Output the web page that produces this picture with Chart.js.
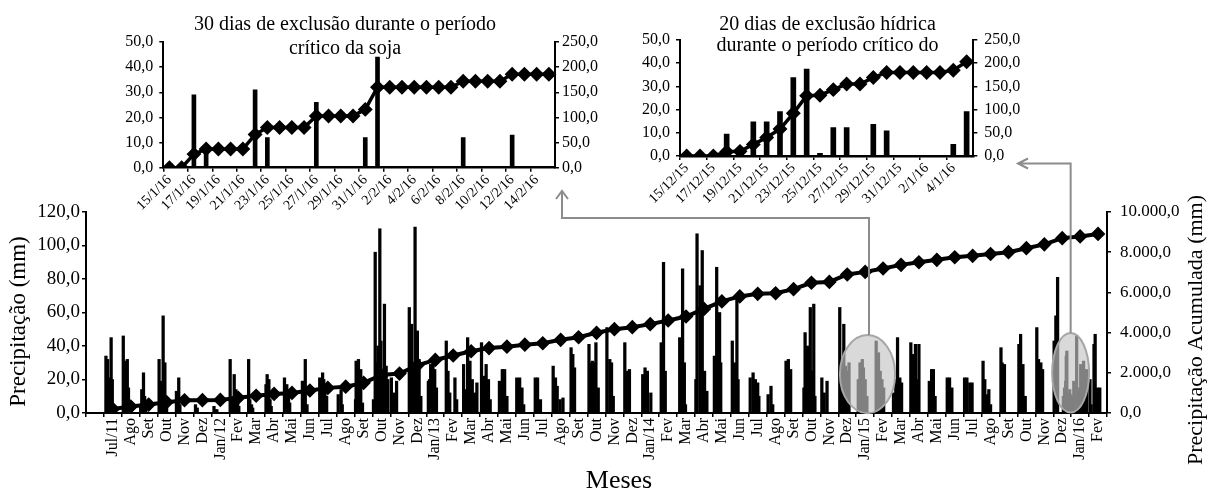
<!DOCTYPE html>
<html lang="pt">
<head>
<meta charset="utf-8">
<script src="https://cdn.jsdelivr.net/npm/chart.js@4.4.1/dist/chart.umd.min.js"></script>
<style>
  html, body { margin: 0; padding: 0; background: #fff; }
  #quadro { position: relative; width: 1208px; height: 491px; overflow: hidden; }
  canvas { position: absolute; top: 0; }
  #principal { left: 0; }
  #detalhe30 { left: 100px; }
  #detalhe20 { left: 620px; }
</style>
</head>
<body>
<div id="quadro">
  <canvas id="principal" width="1208" height="491"></canvas>
  <canvas id="detalhe30" width="510" height="225"></canvas>
  <canvas id="detalhe20" width="420" height="220"></canvas>
</div>
<script>
const FONTE = "'Liberation Serif', 'Times New Roman', serif";

// ---- série principal: jul/2011 a fev/2016 ----
const meses = ['', 'Jul/11', 'Ago', 'Set', 'Out', 'Nov', 'Dez',
  'Jan/12', 'Fev', 'Mar', 'Abr', 'Mai', 'Jun', 'Jul', 'Ago', 'Set', 'Out', 'Nov', 'Dez',
  'Jan/13', 'Fev', 'Mar', 'Abr', 'Mai', 'Jun', 'Jul', 'Ago', 'Set', 'Out', 'Nov', 'Dez',
  'Jan/14', 'Fev', 'Mar', 'Abr', 'Mai', 'Jun', 'Jul', 'Ago', 'Set', 'Out', 'Nov', 'Dez',
  'Jan/15', 'Fev', 'Mar', 'Abr', 'Mai', 'Jun', 'Jul', 'Ago', 'Set', 'Out', 'Nov', 'Dez',
  'Jan/16', 'Fev'];

// precipitação acumulada no fim de cada mês (mm)
const acumuladoMensal = [
  200, 320, 420, 540, 635, 640,
  650, 760, 860, 950, 1000, 1120, 1250, 1310, 1500, 1890, 1960, 2370,
  2640, 2860, 3070, 3230, 3300, 3400, 3470, 3640, 3770, 3990, 4170, 4270,
  4420, 4600, 4800, 5180, 5550, 5800, 5930, 5960, 6160, 6480, 6520, 6890,
  7020, 7190, 7370, 7500, 7620, 7750, 7820, 7910, 8000, 8200, 8390, 8700,
  8785, 8910
];

// chuvas diárias de cada mês: [dia, mm]
const chuva2011 = [
  [[4, 34], [5, 8], [7, 32], [10, 21], [13, 45], [15, 20], [17, 5], [20, 3]],
  [[3, 46], [5, 12], [7, 31], [10, 32], [12, 15], [14, 6], [16, 3]],
  [[2, 5], [4, 14], [7, 24], [9, 10], [11, 5]],
  [[3, 32], [5, 10], [7, 19], [10, 58], [13, 30], [16, 8]],
  [[2, 13], [4, 8], [6, 21], [8, 5]],
  [[4, 5], [7, 3]]
];
const chuva2012 = [
  [[5, 4], [8, 2], [10, 2]],
  [[2, 32], [5, 8], [9, 23], [12, 14], [15, 6], [17, 4]],
  [[3, 32], [5, 8], [8, 5], [10, 3]],
  [[2, 17], [4, 23], [7, 20], [9, 8], [11, 4]],
  [[3, 21], [7, 17], [10, 13], [12, 6]],
  [[3, 19], [5, 19], [8, 32], [11, 5]],
  [[2, 21], [5, 12], [7, 24], [9, 20], [11, 17], [14, 10]],
  [[3, 11], [8, 14], [10, 5]],
  [[2, 8], [3, 31], [7, 32], [11, 26], [14, 6]],
  [[2, 8], [5, 96], [8, 30], [10, 40], [13, 110], [15, 43], [18, 20], [21, 65], [24, 28], [27, 20]],
  [[2, 21], [4, 10], [6, 12], [11, 19]],
  [[2, 63], [4, 40], [6, 53], [9, 30], [12, 111], [14, 30], [16, 49], [19, 32], [22, 10]]
];
const chuva2013 = [
  [[4, 19], [6, 20], [8, 29], [12, 31], [15, 26], [18, 15]],
  [[4, 43], [7, 25], [10, 12], [19, 21], [22, 8]],
  [[3, 29], [6, 14], [10, 45], [12, 25], [14, 31], [18, 20], [22, 12], [26, 18]],
  [[3, 42], [8, 22], [11, 29], [15, 20], [18, 8]],
  [[3, 19], [8, 26], [12, 26], [16, 10]],
  [[2, 21], [7, 21], [11, 15], [14, 5]],
  [[3, 21], [7, 21], [12, 8]],
  [[3, 28], [7, 21], [10, 16], [15, 8], [20, 9]],
  [[3, 39], [6, 35], [9, 27]],
  [[3, 41], [6, 30], [9, 31], [12, 30], [15, 42], [19, 15]],
  [[3, 51], [8, 32], [11, 30], [14, 10]],
  [[3, 42], [7, 25], [11, 26]]
];
const chuva2014 = [
  [[3, 23], [7, 27], [11, 25], [17, 12]],
  [[4, 42], [8, 90], [11, 25]],
  [[5, 45], [10, 86], [13, 30], [15, 5]],
  [[2, 20], [4, 107], [9, 76], [13, 97], [17, 25], [21, 13]],
  [[3, 34], [7, 87], [10, 45], [12, 60], [14, 30]],
  [[3, 43], [7, 30], [11, 68], [13, 20]],
  [[3, 21], [8, 24], [12, 20], [16, 18], [18, 10]],
  [[3, 11], [8, 16], [11, 5]],
  [[3, 31], [7, 32], [11, 26]],
  [[3, 15], [5, 48], [9, 40], [14, 63], [16, 25], [20, 65], [22, 10]],
  [[3, 21], [7, 12], [12, 19]],
  [[3, 63], [6, 30], [10, 53], [13, 28], [16, 25], [19, 30]]
];
const chuva2015 = [
  [[4, 20], [7, 30], [9, 25], [11, 32], [13, 27], [16, 20], [19, 10]],
  [[4, 43], [8, 36], [11, 25], [14, 20], [17, 15]],
  [[3, 12], [7, 20], [10, 45], [14, 21], [17, 18]],
  [[2, 42], [6, 35], [10, 41], [13, 20], [16, 41]],
  [[3, 19], [7, 26], [10, 26], [13, 10]],
  [[3, 21], [7, 21], [11, 15]],
  [[2, 21], [6, 21], [11, 18], [15, 18]],
  [[3, 31], [6, 20], [9, 11], [13, 14], [16, 5]],
  [[3, 39], [5, 30], [9, 29]],
  [[3, 41], [6, 47], [10, 29], [14, 10]],
  [[3, 51], [6, 32], [10, 30], [13, 26]],
  [[2, 43], [5, 58], [8, 81], [18, 10], [20, 15], [22, 19], [23, 34], [24, 37], [26, 12], [27, 12], [29, 14], [30, 11]]
];
const chuva2016 = [
  [[2, 10], [5, 19], [10, 46], [14, 15], [17, 29], [22, 31], [27, 26]],
  [[2, 20], [4, 5], [9, 41], [11, 47], [15, 15], [19, 15]]
];

// ---- detalhe: 15/1/16 a 15/2/16 ----
const datas30 = ['15/1/16', '16/1/16', '17/1/16', '18/1/16', '19/1/16', '20/1/16', '21/1/16', '22/1/16',
  '23/1/16', '24/1/16', '25/1/16', '26/1/16', '27/1/16', '28/1/16', '29/1/16', '30/1/16', '31/1/16',
  '1/2/16', '2/2/16', '3/2/16', '4/2/16', '5/2/16', '6/2/16', '7/2/16', '8/2/16', '9/2/16', '10/2/16',
  '11/2/16', '12/2/16', '13/2/16', '14/2/16', '15/2/16'];
const chuva30 = [0, 0, 29, 7, 0, 0, 0, 31, 12, 0, 0, 0, 26, 0, 0, 0, 12, 44, 0, 0, 0, 0, 0, 0, 12, 0, 0, 0, 13, 0, 0, 0];
const acumulado30 = [0, 0, 27, 37, 37, 37, 37, 66, 80, 80, 80, 80, 103, 103, 103, 103, 116, 160, 160, 160,
  160, 160, 160, 160, 172, 172, 172, 172, 186, 186, 186, 186];

// ---- detalhe: 15/12/15 a 5/1/16 ----
const datas20 = ['15/12/15', '16/12/15', '17/12/15', '18/12/15', '19/12/15', '20/12/15', '21/12/15',
  '22/12/15', '23/12/15', '24/12/15', '25/12/15', '26/12/15', '27/12/15', '28/12/15', '29/12/15',
  '30/12/15', '31/12/15', '1/1/16', '2/1/16', '3/1/16', '4/1/16', '5/1/16'];
const chuva20 = [0, 0, 0, 9.5, 0.5, 14.7, 14.7, 19.1, 33.8, 37.5, 1.1, 12.2, 12.2, 0, 13.6, 10.9, 0, 0, 0, 0, 5, 19.1];
const acumulado20 = [0, 0, 0, 9, 10, 25, 40, 58, 92, 130, 131, 143, 155, 155, 169, 180, 180, 180, 180, 180, 185, 203];

// ---------------------------------------------------------------

function formatar(v) {
  const [inteiro, dec] = Number(v).toFixed(1).split('.');
  return inteiro.replace(/\B(?=(\d{3})+(?!\d))/g, '.') + ',' + dec;
}

const chuvaPorMes = [...chuva2011, ...chuva2012, ...chuva2013, ...chuva2014, ...chuva2015, ...chuva2016];
const barrasDiarias = [];
chuvaPorMes.forEach((eventos, m) => {
  eventos.forEach(([dia, mm]) => barrasDiarias.push({ x: m + 1 + (dia - 0.5) / 31, y: mm }));
});
const pontosAcumulados = acumuladoMensal.map((v, m) => ({ x: m + 1.5, y: v }));

function eixoY(opts) {
  return {
    position: opts.position,
    min: 0,
    max: opts.max,
    ticks: {
      stepSize: opts.step,
      color: '#000',
      padding: opts.padding,
      font: { family: FONTE, size: opts.fonte },
      callback: v => formatar(v)
    },
    grid: { drawOnChartArea: false, color: '#000', lineWidth: 1.5, tickLength: 4 },
    border: { color: '#000', width: 2 },
    afterFit: s => { s.width = opts.largura; }
  };
}

function textos(lista) {
  return {
    id: 'textos',
    afterDraw(chart) {
      const ctx = chart.ctx;
      lista.forEach(t => {
        ctx.save();
        ctx.fillStyle = '#000';
        ctx.font = `${t.tamanho}px ${FONTE}`;
        ctx.textAlign = 'center';
        ctx.textBaseline = t.rot ? 'middle' : 'alphabetic';
        ctx.translate(t.x, t.y);
        if (t.rot) ctx.rotate(-Math.PI / 2);
        ctx.fillText(t.texto, 0, 0);
        ctx.restore();
      });
    }
  };
}

// elipses que marcam os períodos ampliados e as setas até os detalhes
const destaques = [
  { centro: 43.63, meiaLargura: 1.54, centroMm: 23.2, meiaAltura: 23.3 },
  { centro: 54.97, meiaLargura: 1.03, centroMm: 24.0, meiaAltura: 23.7 }
];

const marcacoes = {
  id: 'marcacoes',
  afterDatasetsDraw(chart) {
    const ctx = chart.ctx;
    const xs = chart.scales.xd, ys = chart.scales.y;
    const elipses = destaques.map(d => {
      const cx = xs.getPixelForValue(d.centro);
      const cy = ys.getPixelForValue(d.centroMm);
      const rx = xs.getPixelForValue(d.centro + d.meiaLargura) - cx;
      const ry = cy - ys.getPixelForValue(d.centroMm + d.meiaAltura);
      return { cx, cy, rx, ry };
    });
    ctx.save();
    elipses.forEach(e => {
      ctx.beginPath();
      ctx.ellipse(e.cx, e.cy, e.rx, e.ry, 0, 0, Math.PI * 2);
      ctx.fillStyle = 'rgba(197,197,197,0.65)';
      ctx.fill();
      ctx.lineWidth = 2;
      ctx.strokeStyle = '#a6a6a6';
      ctx.stroke();
    });

    ctx.strokeStyle = '#8c8c8c';
    ctx.lineWidth = 2;
    const [e1, e2] = elipses;
    // conexão com o detalhe de 30 dias (seta para cima)
    ctx.beginPath();
    ctx.moveTo(e1.cx + 1.5, e1.cy - e1.ry);
    ctx.lineTo(e1.cx + 1.5, 218);
    ctx.lineTo(562, 218);
    ctx.lineTo(562, 191);
    ctx.moveTo(556, 199);
    ctx.lineTo(562, 191);
    ctx.lineTo(568, 199);
    ctx.stroke();
    // conexão com o detalhe de 20 dias (seta para a esquerda)
    ctx.beginPath();
    ctx.moveTo(e2.cx, e2.cy - e2.ry);
    ctx.lineTo(e2.cx, 163.5);
    ctx.lineTo(1018, 163.5);
    ctx.moveTo(1028, 158.5);
    ctx.lineTo(1018, 163.5);
    ctx.lineTo(1028, 168.5);
    ctx.stroke();
    ctx.restore();
  }
};

new Chart(document.getElementById('principal'), {
  type: 'bar',
  data: {
    labels: meses,
    datasets: [
      {
        type: 'line',
        label: 'Precipitação acumulada',
        data: pontosAcumulados,
        xAxisID: 'xd',
        yAxisID: 'y2',
        borderColor: '#000',
        backgroundColor: '#000',
        borderWidth: 4,
        pointStyle: 'rectRot',
        pointRadius: 4.5,
        tension: 0
      },
      {
        type: 'bar',
        label: 'Precipitação',
        data: barrasDiarias,
        xAxisID: 'xd',
        yAxisID: 'y',
        backgroundColor: '#000',
        barThickness: 2.6,
        grouped: false
      }
    ]
  },
  options: {
    responsive: false,
    animation: false,
    events: [],
    layout: { padding: { top: 212, left: 0, right: 0, bottom: 0 } },
    plugins: { legend: { display: false }, tooltip: { enabled: false } },
    scales: {
      x: {
        type: 'category',
        offset: true,
        grid: { offset: true, drawOnChartArea: false, color: '#000', lineWidth: 1.5, tickLength: 4 },
        border: { color: '#000', width: 2 },
        ticks: {
          autoSkip: false,
          minRotation: 90,
          maxRotation: 90,
          padding: 1,
          color: '#000',
          font: { family: FONTE, size: 16 }
        },
        afterFit: s => { s.height = 78; }
      },
      xd: { type: 'linear', display: false, min: 0, max: 57, offset: false },
      y: eixoY({ position: 'left', max: 120, step: 20, fonte: 19, padding: 2, largura: 86 }),
      y2: eixoY({ position: 'right', max: 10000, step: 2000, fonte: 17, padding: 9, largura: 101 })
    }
  },
  plugins: [marcacoes, textos([
    { texto: 'Precipitação (mm)', x: 18.5, y: 321.5, tamanho: 23, rot: true },
    { texto: 'Precipitação Acumulada (mm)', x: 1196, y: 330, tamanho: 22, rot: true },
    { texto: 'Meses', x: 619, y: 488, tamanho: 26 }
  ])]
});

function criarDetalhe(id, cfg) {
  return new Chart(document.getElementById(id), {
    type: 'bar',
    data: {
      labels: cfg.datas,
      datasets: [
        {
          type: 'line',
          label: 'Acumulada',
          data: cfg.acumulado,
          yAxisID: 'y2',
          borderColor: '#000',
          backgroundColor: '#000',
          borderWidth: 3.5,
          pointStyle: 'rectRot',
          pointRadius: 5,
          tension: 0
        },
        {
          type: 'bar',
          label: 'Diária',
          data: cfg.chuva,
          yAxisID: 'y',
          backgroundColor: '#000',
          barThickness: cfg.barra
        }
      ]
    },
    options: {
      responsive: false,
      animation: false,
      events: [],
      layout: { padding: { top: cfg.topo, left: 0, right: 0, bottom: 0 } },
      plugins: { legend: { display: false }, tooltip: { enabled: false } },
      scales: {
        x: {
          type: 'category',
          offset: true,
          grid: {
            offset: true,
            drawOnChartArea: false,
            lineWidth: 1.5,
            tickLength: 4,
            tickColor: c => (c.index % 2 === 0 ? '#000' : 'rgba(0,0,0,0)')
          },
          border: { color: '#000', width: 2.5 },
          ticks: {
            autoSkip: false,
            minRotation: 45,
            maxRotation: 45,
            padding: 0,
            color: '#000',
            font: { family: FONTE, size: 14 },
            callback: (v, i) => (i % 2 === 0 ? cfg.datas[i] : '')
          },
          afterFit: s => { s.height = cfg.alturaX; }
        },
        y: eixoY({ position: 'left', max: 50, step: 10, fonte: 16, padding: 6, largura: cfg.esquerda }),
        y2: eixoY({ position: 'right', max: 250, step: 50, fonte: 16, padding: cfg.padDireita, largura: cfg.direita })
      }
    },
    plugins: [textos(cfg.titulo)]
  });
}

criarDetalhe('detalhe30', {
  datas: datas30, chuva: chuva30, acumulado: acumulado30,
  barra: 4, topo: 42, alturaX: 57.3, esquerda: 63.3, direita: 55, padDireita: 3,
  titulo: [
    { texto: '30 dias de exclusão durante o período', x: 245, y: 29.5, tamanho: 20 },
    { texto: 'crítico da soja', x: 245, y: 53.5, tamanho: 20 }
  ]
});

criarDetalhe('detalhe20', {
  datas: datas20, chuva: chuva20, acumulado: acumulado20,
  barra: 5, topo: 40, alturaX: 64, esquerda: 60, direita: 66.7, padDireita: 7,
  titulo: [
    { texto: '20 dias de exclusão hídrica', x: 207.5, y: 29.5, tamanho: 20 },
    { texto: 'durante o período crítico do', x: 207.5, y: 50.5, tamanho: 20 }
  ]
});
</script>
</body>
</html>
